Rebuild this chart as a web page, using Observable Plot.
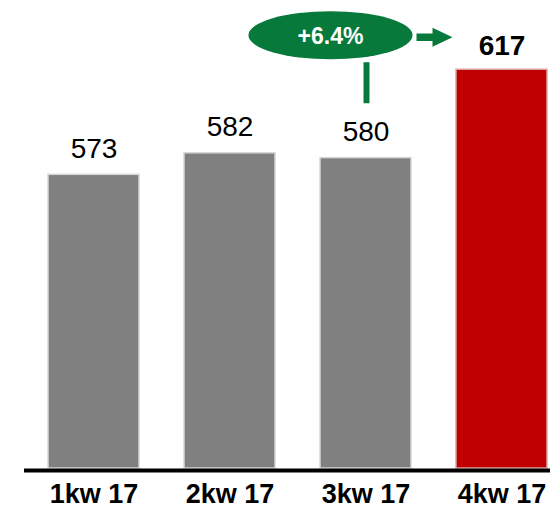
<!DOCTYPE html>
<html><head><meta charset="utf-8">
<script src="https://cdn.jsdelivr.net/npm/d3@7"></script>
<script src="https://cdn.jsdelivr.net/npm/@observablehq/plot@0.6"></script>
<style>body{margin:0;background:#fff}</style>
</head><body><div id="chart"></div>
<script>
const categories = ["1kw 17", "2kw 17", "3kw 17", "4kw 17"];
const values = [573, 582, 580, 617];
const highlight = [false, false, false, true];
const yMin = 450;

const data = categories.map((c, i) => ({cat: c, value: values[i], hl: highlight[i]}));
const normal = data.filter(d => !d.hl);
const hot = data.filter(d => d.hl);
const growth = (values[3] - values[2]) / values[2];
const growthLabel = "+" + (growth * 100).toFixed(1) + "%";

const GREEN = "#077a3b";

function growthBadge(index, scales, channels, dimensions, context) {
  const {x, y} = scales;
  const bw = x.bandwidth();
  const x3 = x(categories[2]) + bw / 2;
  const yTop = y(values[3]);
  const cx = x3 - 35, cy = yTop - 34, rx = 82, ry = 24;
  const g = d3.create("svg:g");
  g.append("ellipse").attr("cx", cx).attr("cy", cy).attr("rx", rx).attr("ry", ry).attr("fill", GREEN);
  g.append("text").attr("x", cx).attr("y", cy + 1).attr("text-anchor", "middle")
    .attr("dominant-baseline", "central").attr("fill", "white")
    .attr("font-size", 23).attr("font-weight", "bold").text(growthLabel);
  // vertical connector
  g.append("line").attr("x1", x3 + 1).attr("x2", x3 + 1)
    .attr("y1", cy + ry + 3).attr("y2", yTop + 34)
    .attr("stroke", GREEN).attr("stroke-width", 6);
  // arrow
  const ax0 = cx + rx + 4, ax1 = ax0 + 16, ax2 = ax1 + 20, ay = cy + 2;
  g.append("path").attr("fill", GREEN).attr("d",
    `M${ax0},${ay - 3.7}L${ax1},${ay - 3.7}L${ax1},${ay - 9.5}L${ax2},${ay}L${ax1},${ay + 9.5}L${ax1},${ay + 3.7}L${ax0},${ay + 3.7}Z`);
  return g.node();
}

const chart = Plot.plot({
  width: 550,
  height: 517,
  marginTop: 0,
  marginBottom: 49,
  marginLeft: 24,
  marginRight: 0,
  style: {fontFamily: "'Liberation Sans', Arial, sans-serif", background: "white", color: "black"},
  x: {domain: categories, range: [47, 547], paddingInner: 0.333, paddingOuter: 0},
  y: {domain: [yMin, 646], axis: null},
  marks: [
    Plot.barY(normal, {x: "cat", y1: () => yMin, y2: "value", fill: "#808080", stroke: "#d6d6d6", strokeWidth: 1.5}),
    Plot.barY(hot, {x: "cat", y1: () => yMin, y2: "value", fill: "#c00000", stroke: "#dba3a3", strokeWidth: 1.5}),
    Plot.ruleY([yMin], {stroke: "black", strokeWidth: 4, dy: 2}),
    Plot.text(normal, {x: "cat", y: "value", text: d => String(d.value), lineAnchor: "bottom", dy: -17, fontSize: 28, fill: "black"}),
    Plot.text(hot, {x: "cat", y: "value", text: d => String(d.value), lineAnchor: "bottom", dy: -15, fontSize: 28, fontWeight: "bold", fill: "black"}),
    Plot.axisX({tickSize: 0, tickPadding: 15, fontSize: 27, fontWeight: "bold", fill: "black", label: null}),
    growthBadge
  ]
});
document.getElementById("chart").appendChild(chart);
</script>
</body></html>
